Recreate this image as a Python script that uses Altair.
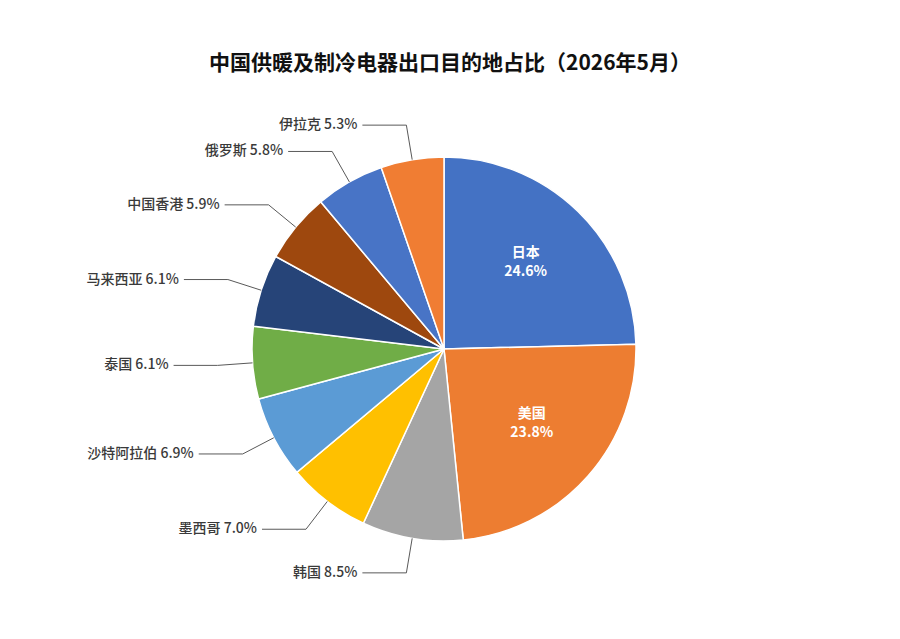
import altair as alt
import pandas as pd

countries = ["日本", "美国", "韩国", "墨西哥", "沙特阿拉伯", "泰国", "马来西亚", "中国香港", "俄罗斯", "伊拉克"]
shares = [24.6, 23.8, 8.5, 7.0, 6.9, 6.1, 6.1, 5.9, 5.8, 5.3]
colors = ["#4472C4", "#ED7D31", "#A5A5A5", "#FFC000", "#5B9BD5", "#70AD47", "#264478", "#9E480E", "#4874C6", "#F07D33"]
inside = ["日本", "美国"]
title_text = "中国供暖及制冷电器出口目的地占比（2026年5月）"

df = pd.DataFrame({"country": countries, "value": shares, "idx": list(range(len(countries)))})
df["inside"] = df["country"].isin(inside)

FONT = "Noto Sans CJK SC"
R = 192      # pie radius (px)
R2 = 227     # leader elbow radius
H = 44       # horizontal leader length
RI = 117     # inside label radius

xs = alt.Scale(domain=[-436, 448], nice=False, zero=False)
ys = alt.Scale(domain=[-282, 261], nice=False, zero=False)

base = alt.Chart(df).transform_joinaggregate(
    total="sum(value)"
).transform_window(
    cum="sum(value)", sort=[alt.SortField("idx")], frame=[None, 0]
).transform_calculate(
    mid="(datum.cum - datum.value/2) / datum.total * 2 * PI",
).transform_calculate(
    x1=f"{R} * sin(datum.mid)", y1=f"{R} * cos(datum.mid)",
    xe=f"{R2} * sin(datum.mid)", ye=f"{R2} * cos(datum.mid)",
    xi=f"{RI} * sin(datum.mid)", yi=f"{RI} * cos(datum.mid)",
    label="datum.country + ' ' + format(datum.value, '.1f') + '%'",
    inlabel="[datum.country, format(datum.value, '.1f') + '%']",
).transform_calculate(
    side="datum.xe < 0 ? -1 : 1",
).transform_calculate(
    xh=f"datum.xe + datum.side * {H}",
    xt=f"datum.xe + datum.side * ({H} + 5)",
)

pie = alt.Chart(df).mark_arc(radius=R, stroke="white", strokeWidth=1.5).encode(
    theta=alt.Theta("value:Q", stack=True),
    color=alt.Color("country:N", scale=alt.Scale(domain=countries, range=colors), legend=None),
    order=alt.Order("idx:Q"),
    x=alt.X(datum=0, scale=xs, axis=None),
    y=alt.Y(datum=0, scale=ys, axis=None),
)

outside = base.transform_filter("!datum.inside")

lead1 = outside.mark_rule(color="#595959", strokeWidth=1).encode(
    x=alt.X("x1:Q", scale=xs, axis=None), y=alt.Y("y1:Q", scale=ys, axis=None),
    x2="xe:Q", y2="ye:Q",
)
lead2 = outside.mark_rule(color="#595959", strokeWidth=1).encode(
    x=alt.X("xe:Q", scale=xs, axis=None), y=alt.Y("ye:Q", scale=ys, axis=None),
    x2="xh:Q",
)
labels = outside.mark_text(align="right", baseline="middle", font=FONT, fontSize=14,
                           fontWeight=500, color="#3a3a3a").encode(
    x=alt.X("xt:Q", scale=xs, axis=None), y=alt.Y("ye:Q", scale=ys, axis=None),
    text="label:N",
)
inlabels = base.transform_filter("datum.inside").mark_text(
    align="center", baseline="middle", font=FONT, fontSize=14, fontWeight="bold",
    color="white", lineHeight=19, dy=-12,
).encode(
    x=alt.X("xi:Q", scale=xs, axis=None), y=alt.Y("yi:Q", scale=ys, axis=None),
    text="inlabel:N",
)

chart = alt.layer(pie, lead1, lead2, labels, inlabels).properties(
    width=884, height=543,
    background="white",
    autosize=alt.AutoSizeParams(type="none"),
    padding={"left": 0, "right": 0, "top": 80, "bottom": 0},
    title=alt.TitleParams(title_text, font=FONT, fontSize=21, fontWeight="bold",
                          color="#111111", anchor="middle", offset=14),
).configure_view(stroke=None)

chart.save("out.html", embed_options={"renderer": "svg", "actions": False})
